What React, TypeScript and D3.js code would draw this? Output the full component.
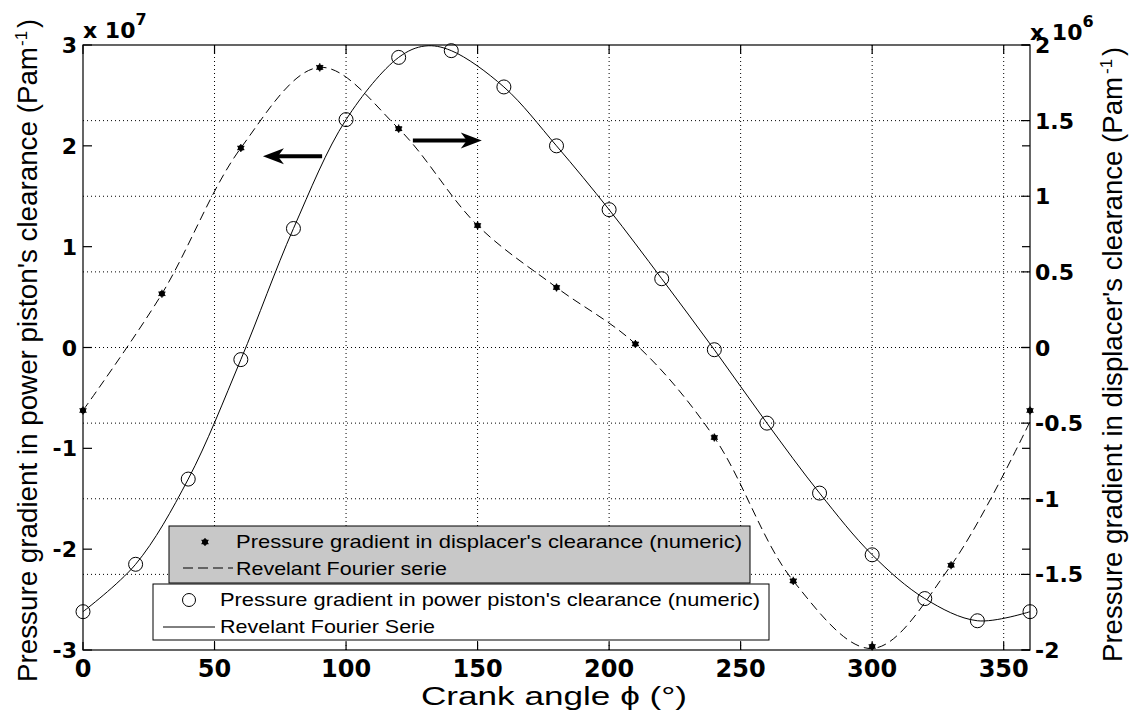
import React from 'react';
import * as d3 from 'd3';

// crank angle (deg) and values
const pistonAngle = [0, 20, 40, 60, 80, 100, 120, 140, 160, 180, 200, 220, 240, 260, 280, 300, 320, 340, 360];
const pistonNumeric = [-2.62, -2.15, -1.305, -0.12, 1.18, 2.26, 2.877, 2.944, 2.584, 2.0, 1.367, 0.682, -0.022, -0.75, -1.444, -2.056, -2.49, -2.71, -2.62]; // x 1e7

const pistonFourierAngle = [0, 20, 40, 60, 80, 100, 120, 130, 140, 160, 180, 200, 220, 240, 260, 280, 300, 320, 340, 360];
const pistonFourier = [-2.62, -2.15, -1.305, -0.12, 1.18, 2.26, 2.877, 2.99, 2.944, 2.584, 2.0, 1.367, 0.682, -0.022, -0.75, -1.444, -2.056, -2.49, -2.71, -2.62];

const displacerAngle = [0, 30, 60, 90, 120, 150, 180, 210, 240, 270, 300, 330, 360];
const displacerNumeric = [-0.416, 0.355, 1.319, 1.852, 1.447, 0.807, 0.397, 0.023, -0.595, -1.543, -1.977, -1.44, -0.416]; // x 1e6
const displacerFourier = [-0.416, 0.355, 1.319, 1.852, 1.447, 0.807, 0.397, 0.023, -0.595, -1.543, -1.99, -1.44, -0.49];

const xTicks = [0, 50, 100, 150, 200, 250, 300, 350];
const leftTicks = [-3, -2, -1, 0, 1, 2, 3];
const rightTicks = [-2, -1.5, -1, -0.5, 0, 0.5, 1, 1.5, 2];

const legendTop = ["Pressure gradient in displacer's clearance (numeric)", 'Revelant Fourier serie'];
const legendBottom = ["Pressure gradient in power piston's clearance (numeric)", 'Revelant Fourier Serie'];

const W = 1143;
const H = 720;
const L = 83, R = 1030, T = 45, B = 650;

const SANS = "'Liberation Sans', Arial, sans-serif";
const BOLD = "'DejaVu Sans', sans-serif";

const x = d3.scaleLinear().domain([0, 360]).range([L, R]);
const yL = d3.scaleLinear().domain([-3, 3]).range([B, T]);
const yR = d3.scaleLinear().domain([-2, 2]).range([B, T]);

const lineL = d3.line<[number, number]>()
  .x(d => x(d[0]))
  .y(d => yL(d[1]))
  .curve(d3.curveCatmullRom.alpha(0.5));
const lineR = d3.line<[number, number]>()
  .x(d => x(d[0]))
  .y(d => yR(d[1]))
  .curve(d3.curveCatmullRom.alpha(0.5));

const star = d3.symbol().type(d3.symbolAsterisk).size(45)();

const Arrow = ({ x0, x1, y }: { x0: number; x1: number; y: number }) => {
  const dir = x1 > x0 ? 1 : -1;
  const tip = x1;
  const head = `M${tip},${y} L${tip - dir * 21},${y - 8} L${tip - dir * 15},${y} L${tip - dir * 21},${y + 8} Z`;
  return (
    <g>
      <line x1={x0} x2={tip - dir * 12} y1={y} y2={y} stroke="#000" strokeWidth={4} />
      <path d={head} fill="#000" />
    </g>
  );
};

const Dot = ({ cx, cy }: { cx: number; cy: number }) => (
  <g transform={`translate(${cx},${cy})`}>
    <circle r={3} fill="#000" />
    <path d={star!} stroke="#000" strokeWidth={1.2} />
  </g>
);

export default function App() {
  const pistonLine = lineL(pistonFourierAngle.map((a, i) => [a, pistonFourier[i]]))!;
  const displacerLine = lineR(displacerAngle.map((a, i) => [a, displacerFourier[i]]))!;

  return (
    <svg width={W} height={H} style={{ position: 'absolute', left: 0, top: 0, background: '#fff' }}>
      <rect width={W} height={H} fill="#fff" />

      {/* grid */}
      <g stroke="#000" strokeWidth={1} strokeDasharray="1,3">
        {xTicks.filter(t => t > 0).map(t => (
          <line key={'gx' + t} x1={x(t)} x2={x(t)} y1={T} y2={B} />
        ))}
        {rightTicks.filter(t => t > -2 && t < 2).map(t => (
          <line key={'gy' + t} x1={L} x2={R} y1={yR(t)} y2={yR(t)} />
        ))}
      </g>

      {/* frame and ticks */}
      <rect x={L} y={T} width={R - L} height={B - T} fill="none" stroke="#000" strokeWidth={1.2} />
      <g stroke="#000" strokeWidth={1.2}>
        {xTicks.map(t => (
          <g key={'tx' + t}>
            <line x1={x(t)} x2={x(t)} y1={B} y2={B - 8} />
            <line x1={x(t)} x2={x(t)} y1={T} y2={T + 9} />
          </g>
        ))}
        {leftTicks.map(t => (
          <g key={'tl' + t}>
            <line x1={L} x2={L + 9} y1={yL(t)} y2={yL(t)} />
            <line x1={R} x2={R - 8} y1={yL(t)} y2={yL(t)} />
          </g>
        ))}
        {rightTicks.map(t => (
          <line key={'tr' + t} x1={R} x2={R - 9} y1={yR(t)} y2={yR(t)} />
        ))}
      </g>

      {/* tick labels */}
      <g fontFamily={BOLD} fontWeight="bold" fill="#000">
        {xTicks.map(t => (
          <text key={'lx' + t} x={x(t)} y={677} fontSize={24} textAnchor="middle">{t}</text>
        ))}
        {leftTicks.map(t => (
          <text key={'ll' + t} x={77} y={yL(t) + 8} fontSize={22} textAnchor="end">{t}</text>
        ))}
        {rightTicks.map(t => (
          <text key={'lr' + t} x={1035} y={yR(t) + 8} fontSize={22} textAnchor="start">{t}</text>
        ))}
        <text x={83} y={38} fontSize={22}>x 10<tspan dy={-13} fontSize={16}>7</tspan></text>
        <text x={1030} y={40} fontSize={22}>x 10<tspan dy={-13} fontSize={16}>6</tspan></text>
      </g>

      {/* curves */}
      <path d={displacerLine} fill="none" stroke="#000" strokeWidth={1} strokeDasharray="9,5" />
      <path d={pistonLine} fill="none" stroke="#000" strokeWidth={1} />

      {/* markers */}
      {pistonAngle.map((a, i) => (
        <circle key={'c' + a} cx={x(a)} cy={yL(pistonNumeric[i])} r={7} fill="none" stroke="#000" strokeWidth={1} />
      ))}
      {displacerAngle.map((a, i) => (
        <Dot key={'d' + a} cx={x(a)} cy={yR(displacerNumeric[i])} />
      ))}

      {/* arrows */}
      <Arrow x0={x(90.9)} x1={x(68.4)} y={yR(1.264)} />
      <Arrow x0={x(125.4)} x1={x(151.6)} y={yR(1.369)} />

      {/* axis titles */}
      <g fontFamily={SANS} fill="#000">
        <text x={554} y={705} fontSize={26} textAnchor="middle" textLength={266} lengthAdjust="spacingAndGlyphs">Crank angle ϕ (°)</text>
        <text transform="translate(37,682) rotate(-90)" fontSize={27} textLength={635} lengthAdjust="spacingAndGlyphs">
          Pressure gradient in power piston's clearance (Pam
        </text>
        <text transform="translate(27,46) rotate(-90)" fontSize={17}>-1</text>
        <text transform="translate(37,28) rotate(-90)" fontSize={27}>)</text>

        <text transform="translate(1122,662) rotate(-90)" fontSize={27} textLength={585} lengthAdjust="spacingAndGlyphs">
          Pressure gradient in displacer's clearance (Pam
        </text>
        <text transform="translate(1112,74) rotate(-90)" fontSize={17}>-1</text>
        <text transform="translate(1122,56) rotate(-90)" fontSize={27}>)</text>
      </g>

      {/* legends */}
      <g fontFamily={SANS} fill="#000" fontSize={19}>
        <rect x={169} y={526} width={581} height={57} fill="#c8c8c8" stroke="#000" strokeWidth={1} />
        <Dot cx={205} cy={542} />
        <text x={236} y={548} textLength={506} lengthAdjust="spacingAndGlyphs">{legendTop[0]}</text>
        <line x1={183} x2={233} y1={568} y2={568} stroke="#000" strokeWidth={1} strokeDasharray="10,5" />
        <text x={236} y={575} textLength={211} lengthAdjust="spacingAndGlyphs">{legendTop[1]}</text>

        <rect x={153} y={584} width={616} height={56} fill="#fff" stroke="#000" strokeWidth={1} />
        <circle cx={189} cy={600} r={6.5} fill="none" stroke="#000" strokeWidth={1} />
        <text x={220} y={606} textLength={540} lengthAdjust="spacingAndGlyphs">{legendBottom[0]}</text>
        <line x1={163} x2={215} y1={627} y2={627} stroke="#000" strokeWidth={1} />
        <text x={220} y={633} textLength={215} lengthAdjust="spacingAndGlyphs">{legendBottom[1]}</text>
      </g>
    </svg>
  );
}
